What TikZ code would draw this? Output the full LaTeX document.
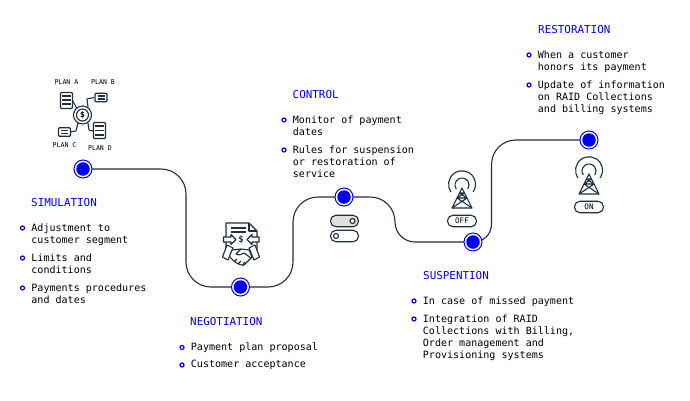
\documentclass[tikz,border=0pt]{standalone}
\usepackage{fontspec}
\setmainfont{DejaVu Sans Mono}
\usetikzlibrary{calc}
\definecolor{ink}{HTML}{1E2F3F}
\definecolor{accent}{HTML}{0000F0}
\tikzset{
  x=1pt,y=-1pt,
  txt/.style={font=\fontsize{10.05}{12}\selectfont,text=black,anchor=north west,inner sep=0pt,align=left},
  ttl/.style={font=\fontsize{10.9}{12}\selectfont,text=accent,anchor=west,inner sep=0pt},
  plan/.style={font=\fontsize{6.6}{8}\selectfont,text=black,inner sep=0pt},
  bul/.style={circle,draw=accent,line width=1.2pt,fill=white,minimum size=4pt,inner sep=0pt},
  ring/.style={circle,draw=accent,line width=1pt,fill=white,minimum size=18pt,inner sep=0pt},
  route/.style={draw=ink,line width=1.1pt},
  ico/.style={draw=ink,line width=1.1pt,line join=round},
  pill/.style={draw=ink,line width=1.1pt,rounded corners=5.5pt,minimum height=11.5pt,inner sep=0pt},
  sheet/.style={draw=ink,line width=1.1pt,rounded corners=1pt,fill=white,minimum width=12pt,inner sep=0pt},
  knob/.style={circle,draw=ink,line width=1.1pt,fill=white,minimum size=5pt,inner sep=0pt},
}
\newcommand{\stopdot}[2]{%
  \node[ring] (r#1) at #2 {};
  \node[circle,fill=accent,minimum size=13.5pt,inner sep=0pt] (#1) at #2 {};}
\newcommand{\blt}[3]{%
  \node[bul] (b#1) at #2 {};
  \node[txt] (t#1) at ($#2+(8.7,-4.8)$) {#3};}
\newcommand{\tower}[2]{%
  \begin{scope}[shift={#1}]
    \draw[ico] (-11,-9) arc[start angle=145,end angle=395,radius=13.5];
    \draw[ico] (-5.7,-12) arc[start angle=145,end angle=395,radius=7];
    \draw[ico,fill=white] (-10,7) -- (0,-13) -- (10,7) -- cycle;
    \draw[ico] (-2.5,-8) -- (2.5,-8) (-5,-3) -- (5,-3) (-10,7) -- (5,-3) (10,7) -- (-5,-3) (-2.5,-8) -- (5,-3) (2.5,-8) -- (-5,-3);
    \node[pill,minimum width=29pt,fill=white,font=\fontsize{7.6}{8}\selectfont] (#2) at (0,20) {#2};
  \end{scope}}
\begin{document}
\begin{tikzpicture}
\useasboundingbox (0,0) rectangle (690,400);
\fill[white] (0,0) rectangle (690,400);
% stops
\coordinate (p1) at (83,169);
\coordinate (p2) at (240.5,287);
\coordinate (p3) at (344,197);
\coordinate (p4) at (473,242);
\coordinate (p5) at (589,140);
% route
\path[route,rounded corners=25pt] (p1) -- (186,169) -- (186,287) -- (p2) -- (293,287) -- (293,197) -- (p3);
\path[route] (p3) -- (370,197) .. controls (384,197) and (395,208) .. (395,222)
  .. controls (395,233) and (404,242) .. (415,242) -- (p4)
  .. controls (484,242) and (491.5,234) .. (491.5,224) -- (491.5,165)
  .. controls (491.5,151) and (502,140) .. (516,140) -- (p5);
\stopdot{s1}{(p1)}
\stopdot{s2}{(p2)}
\stopdot{s3}{(p3)}
\stopdot{s4}{(p4)}
\stopdot{s5}{(p5)}
% simulation
\node[ttl] (h1) at (31,202.5) {SIMULATION};
\blt{a1}{(22.5,228)}{Adjustment to\\customer segment}
\blt{a2}{(22.5,258)}{Limits and\\conditions}
\blt{a3}{(22.5,288)}{Payments procedures\\and dates}
% negotiation
\node[ttl] (h2) at (190,322) {NEGOTIATION};
\blt{b1}{(182,347.5)}{Payment plan proposal}
\blt{b2}{(182,365)}{Customer acceptance}
% control
\node[ttl] (h3) at (292.5,95) {CONTROL};
\blt{c1}{(284,120)}{Monitor of payment\\dates}
\blt{c2}{(284,150)}{Rules for suspension\\or restoration of\\service}
% suspention
\node[ttl] (h4) at (423,276) {SUSPENTION};
\blt{d1}{(414,301)}{In case of missed payment}
\blt{d2}{(414,319)}{Integration of RAID\\Collections with Billing,\\Order management and\\Provisioning systems}
% restoration
\node[ttl] (h5) at (538,30) {RESTORATION};
\blt{e1}{(529,55)}{When a customer\\honors its payment}
\blt{e2}{(529,85)}{Update of information\\on RAID Collections\\and billing systems}
% plans icon
\draw[ico] (73,101) -- (77,109) (88,107) -- (87,99) -- (94,97.5)
  (78,123) -- (76,131) -- (70,132) (88,123) -- (89,130) -- (93,131);
\node[circle,draw=ink,line width=1.1pt,minimum size=18pt,inner sep=0pt,fill=white] (coin) at (82.5,115) {};
\node[circle,draw=ink,line width=1.1pt,minimum size=12pt,inner sep=0pt,font=\fontsize{8}{9}\bfseries\selectfont] (coinb) at (82.5,115) {\$};
\node[sheet,minimum height=16pt] (pa) at (66.5,100.5) {};
\draw[ico] (62,96) -- (71,96) (62,100) -- (71,100) (62,104) -- (71,104);
\node[sheet,minimum height=8.5pt] (pb) at (101,97.5) {};
\draw[ico] (97.5,96) -- (104.5,96) (97.5,99) -- (104.5,99);
\node[sheet,minimum height=8.5pt] (pc) at (64.5,132) {};
\draw[ico] (61,130.5) -- (68,130.5) (61,133.5) -- (68,133.5);
\node[sheet,minimum height=16pt] (pd) at (99.5,130.5) {};
\draw[ico] (95,126) -- (104,126) (95,130.5) -- (104,130.5) (95,135) -- (104,135);
\node[plan] (la) at (66.5,82.5) {PLAN A};
\node[plan] (lb) at (103,82.5) {PLAN B};
\node[plan] (lc) at (64.5,145.5) {PLAN C};
\node[plan] (ld) at (100,148.5) {PLAN D};
% handshake icon
\draw[ico,fill=white] (226,223) -- (249,223) -- (257,231) -- (257,251) -- (226,251) -- cycle;
\draw[ico] (249,223) -- (249,231) -- (257,231);
\draw[ico] (231,228) -- (246,228) (231,232) -- (246,232);
\node[inner sep=0pt,font=\fontsize{9}{10}\bfseries\selectfont,text=ink] (dollar) at (241,239.5) {\$};
\draw[ico,fill=white] (223.5,237) -- (231,237) -- (231,234.5) -- (236,239.5) -- (231,244.5) -- (231,242) -- (223.5,242) -- cycle;
\draw[ico,fill=white] (259,237) -- (252,237) -- (252,234.5) -- (247,239.5) -- (252,244.5) -- (252,242) -- (259,242) -- cycle;
\draw[ico,fill=white] (227,245) -- (233,248) -- (228,260) -- (222.5,257) -- cycle;
\draw[ico,fill=white] (255,245) -- (249,248) -- (254,260) -- (259.5,257) -- cycle;
\draw[ico,fill=white] (232,250) -- (241,249) -- (249,250) -- (252,257) -- (244,265) .. controls (240,266) and (234,262) .. (229.5,256.5) -- cycle;
\draw[ico] (241,249) -- (236,254) .. controls (239,256) and (242,254) .. (244,253) -- (251,258);
\draw[ico] (234,262) -- (237,259) (238,264) -- (241,261) (242,265.5) -- (245,262);
% switches
\node[pill,fill=black!12,minimum width=28pt] (sw1) at (344.5,221) {};
\node[knob] (k1) at (352.5,221) {};
\node[pill,fill=white,minimum width=28pt] (sw2) at (344.5,236) {};
\node[knob] (k2) at (336,236) {};
% towers
\tower{(462,201)}{OFF}
\tower{(589,187)}{ON}
\end{tikzpicture}
\end{document}
